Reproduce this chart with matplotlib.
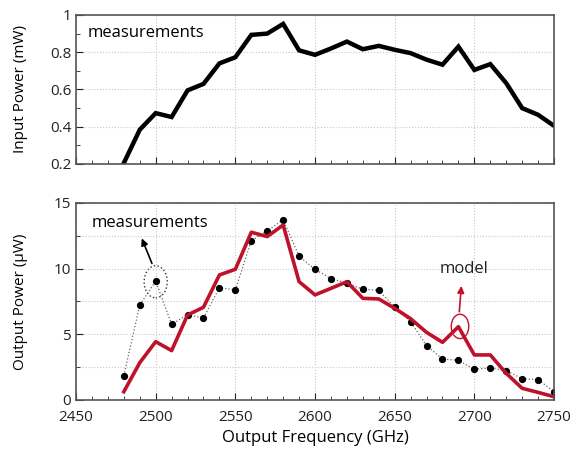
import numpy as np
import matplotlib
matplotlib.use('Agg')
import matplotlib.pyplot as plt
from matplotlib.patches import Ellipse

plt.rcParams['font.family'] = ['Open Sans', 'DejaVu Sans']

freq = list(range(2480, 2751, 10))

input_power = [0.205, 0.384, 0.473, 0.452, 0.595, 0.63, 0.74, 0.773, 0.893, 0.90,
               0.952, 0.81, 0.786, 0.82, 0.857, 0.816, 0.834, 0.813, 0.795, 0.76,
               0.733, 0.83, 0.705, 0.736, 0.634, 0.50, 0.464, 0.405]

measured = [1.85, 7.23, 9.04, 5.76, 6.5, 6.24, 8.55, 8.38, 12.13, 12.87,
            13.73, 10.94, 9.95, 9.24, 8.9, 8.43, 8.35, 7.06, 5.96, 4.14,
            3.12, 3.02, 2.34, 2.44, 2.23, 1.62, 1.55, 0.63]

model = [0.63, 2.84, 4.44, 3.76, 6.47, 7.06, 9.52, 9.95, 12.77, 12.44,
         13.32, 9.01, 8.0, 8.5, 9.0, 7.74, 7.69, 6.98, 6.19, 5.15,
         4.39, 5.58, 3.43, 3.43, 2.03, 0.89, 0.58, 0.25]

red = '#c0112b'

fig = plt.figure(figsize=(5.88, 4.53), dpi=100)
ax1 = fig.add_axes([0.1293, 0.638, 0.8129, 0.329])
ax2 = fig.add_axes([0.1293, 0.117, 0.8129, 0.435])

for ax in (ax1, ax2):
    ax.set_xlim(2450, 2750)
    ax.set_xticks(range(2450, 2751, 50))
    ax.set_xticks(range(2450, 2751, 10), minor=True)
    ax.tick_params(which='both', direction='in', top=False, right=False,
                   labelsize=11, colors='#222222')
    ax.tick_params(which='major', length=5)
    ax.tick_params(which='minor', length=3)
    ax.tick_params(axis='x', pad=7)
    for s in ax.spines.values():
        s.set_color('#555555')
        s.set_linewidth(1.2)
    ax.grid(True, which='major', axis='x', linestyle=':', color='#c8c8c8', linewidth=0.8)

# top panel
ax1.plot(freq, input_power, color='black', linewidth=3.2, solid_joinstyle='miter')
ax1.set_ylim(0.2, 1.0)
ax1.set_yticks([0.2, 0.4, 0.6, 0.8, 1.0])
ax1.set_yticklabels(['0.2', '0.4', '0.6', '0.8', '1'])
ax1.set_yticks(np.arange(0.2, 1.01, 0.1), minor=True)
ax1.grid(True, which='major', axis='y', linestyle=':', color='#c8c8c8', linewidth=0.8)
ax1.tick_params(labelbottom=False)
ax1.set_ylabel('Input Power (mW)', fontsize=11)
ax1.yaxis.set_label_coords(-0.10, 0.5)
ax1.text(2457, 0.905, 'measurements', fontsize=12, va='center')

# bottom panel
ax2.plot(freq, measured, color='#666666', linestyle=':', linewidth=0.9,
         marker='o', markersize=4.2, markerfacecolor='black', markeredgecolor='black')
ax2.plot(freq, model, color=red, linewidth=2.6)
ax2.set_ylim(0, 15)
ax2.set_yticks([0, 5, 10, 15])
ax2.set_yticks(np.arange(0, 15.1, 2.5), minor=True)
ax2.grid(True, which='both', axis='y', linestyle=':', color='#c8c8c8', linewidth=0.8)
ax2.set_ylabel('Output Power (\u03bcW)', fontsize=11)
ax2.yaxis.set_label_coords(-0.10, 0.5)
ax2.set_xlabel('Output Frequency (GHz)', fontsize=12, labelpad=4)

ax2.add_patch(Ellipse((2500, 9.0), 14.5, 2.45, fill=False, linestyle=':',
                      edgecolor='#333333', linewidth=1))
ax2.annotate('', xy=(2490.6, 12.5), xytext=(2498.3, 10.2),
             arrowprops=dict(arrowstyle='-|>', color='black', lw=1.2, mutation_scale=10))
ax2.text(2460, 13.5, 'measurements', fontsize=12, va='center')

ax2.add_patch(Ellipse((2691, 5.6), 11, 1.85, fill=False, edgecolor=red, linewidth=1))
ax2.annotate('', xy=(2692, 8.9), xytext=(2690.4, 6.5),
             arrowprops=dict(arrowstyle='-|>', color=red, lw=1.2, mutation_scale=10))
ax2.text(2693.5, 9.95, 'model', fontsize=12, ha='center', va='center', color='#222222')

fig.savefig('out.png', dpi=100)
